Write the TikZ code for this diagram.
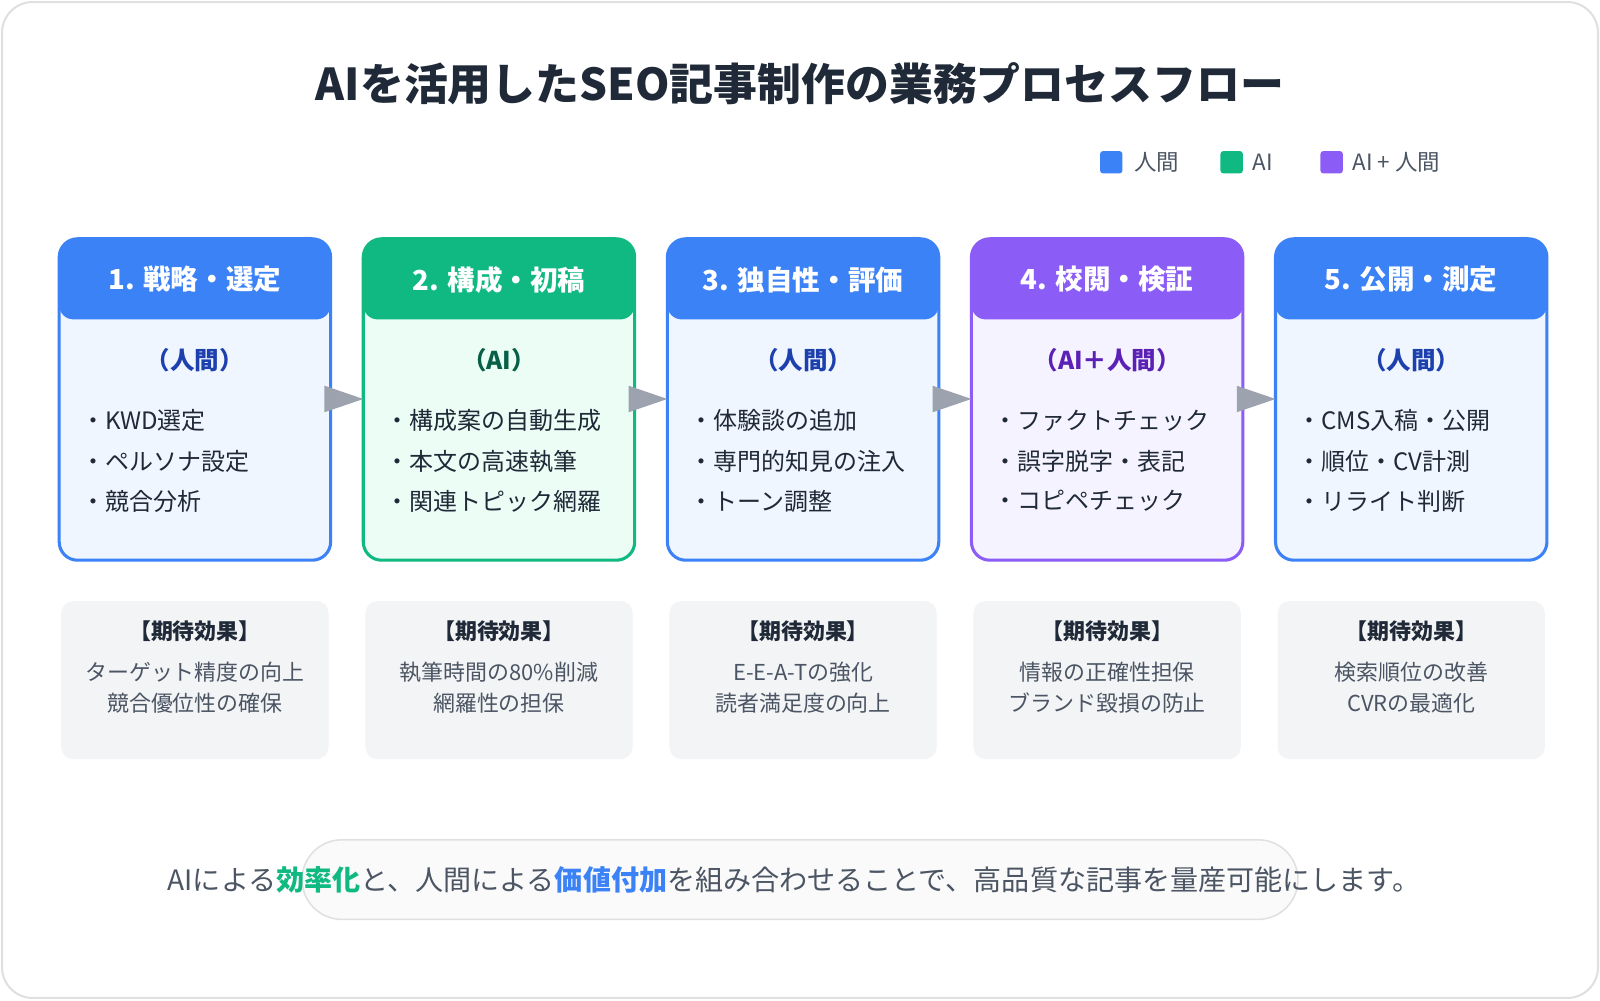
\documentclass[tikz,border=0pt]{standalone}
\usepackage{fontspec}
\setmainfont{Noto Sans CJK JP}
\definecolor{cblue}{HTML}{3B82F6}\definecolor{cgreen}{HTML}{10B981}\definecolor{cpurple}{HTML}{8B5CF6}
\definecolor{fblue}{HTML}{EFF6FF}\definecolor{fgreen}{HTML}{ECFDF5}\definecolor{fpurple}{HTML}{F5F3FF}
\definecolor{sblue}{HTML}{1E40AF}\definecolor{sgreen}{HTML}{065F46}\definecolor{spurple}{HTML}{5B21B6}
\definecolor{txt}{HTML}{1F2937}\definecolor{gtxt}{HTML}{4B5563}\definecolor{effbg}{HTML}{F3F4F6}
\definecolor{arr}{HTML}{9CA3AF}
\tikzset{
 title/.style={font=\fontsize{43}{50}\selectfont\bfseries,text=txt},
 leg/.style={font=\fontsize{22}{26}\selectfont,text=gtxt,anchor=west},
 head/.style={font=\fontsize{27}{32}\selectfont\bfseries,text=white},
 sub/.style={font=\fontsize{24}{28}\selectfont\bfseries},
 bul/.style={font=\fontsize{23.5}{28}\selectfont,text=txt,anchor=west},
 efft/.style={font=\fontsize{21.5}{26}\selectfont\bfseries,text=txt},
 effl/.style={font=\fontsize{21.5}{31}\selectfont,text=gtxt,align=center},
 flow/.style={fill=arr},
}
\newcommand{\mycard}[9]{%
 \fill[#3,rounded corners=18pt] (#1,234) rectangle ++(266,315);
 \begin{scope}
 \clip[rounded corners=18pt] (#1,234) rectangle ++(266,315);
 \fill[#2,rounded corners=14pt] (#1,234) rectangle ++(266,79);
 \fill[#2] (#1,234) rectangle ++(266,40);
 \end{scope}
 \draw[#2,line width=3pt,rounded corners=18pt] (#1,234) rectangle ++(266,315);
 \node[head] (h#9) at (#1+133,274) {#4};
 \node[sub,text=#6] (s#9) at (#1+133,353) {#5};
 \node[bul] (a#9) at (#1+18,412) {・#7};
 \coordinate (c#9) at (#1,391);
 \coordinate (d#9) at (#1+260,391);
}
\newcommand{\myarrow}[2]{\fill[flow] ([yshift=-13pt]#1) -- ([yshift=13pt]#1) -- (#2) -- cycle;}
\newcommand{\myeff}[4]{%
 \fill[effbg,rounded corners=12pt] (#1+2,589) rectangle ++(262,155);
 \node[efft] (e#4) at (#1+133,619) {【期待効果】};
 \node[effl] (l#4) at (#1+133,674) {#2\\#3};
}
\begin{document}
\begin{tikzpicture}[x=1pt,y=-1pt]
\useasboundingbox (0,0) rectangle (1568,980);
\draw[black!12,line width=2pt,fill=white,rounded corners=30pt] (2,2) rectangle (1566,978);
\node[title] (t) at (784,82) {AIを活用したSEO記事制作の業務プロセスフロー};
\fill[cblue,rounded corners=3pt] (1078,148) rectangle ++(22,22);
\node[leg] (l1) at (1108,159) {人間};
\fill[cgreen,rounded corners=3pt] (1196,148) rectangle ++(22,22);
\node[leg] (l2) at (1224,159) {AI};
\fill[cpurple,rounded corners=3pt] (1294,148) rectangle ++(22,22);
\node[leg] (l3) at (1322,159) {AI + 人間};
\mycard{58}{cblue}{fblue}{1. 戦略・選定}{（人間）}{sblue}{KWD選定}{}{1}
\node[bul] at (76,452) {・ペルソナ設定}; \node[bul] at (76,491) {・競合分析};
\mycard{356}{cgreen}{fgreen}{2. 構成・初稿}{（AI）}{sgreen}{構成案の自動生成}{}{2}
\node[bul] at (374,452) {・本文の高速執筆}; \node[bul] at (374,491) {・関連トピック網羅};
\mycard{654}{cblue}{fblue}{3. 独自性・評価}{（人間）}{sblue}{体験談の追加}{}{3}
\node[bul] at (672,452) {・専門的知見の注入}; \node[bul] at (672,491) {・トーン調整};
\mycard{952}{cpurple}{fpurple}{4. 校閲・検証}{（AI＋人間）}{spurple}{ファクトチェック}{}{4}
\node[bul] at (970,452) {・誤字脱字・表記}; \node[bul] at (970,491) {・コピペチェック};
\mycard{1250}{cblue}{fblue}{5. 公開・測定}{（人間）}{sblue}{CMS入稿・公開}{}{5}
\node[bul] at (1268,452) {・順位・CV計測}; \node[bul] at (1268,491) {・リライト判断};
\myarrow{d1}{c2}
\myarrow{d2}{c3}
\myarrow{d3}{c4}
\myarrow{d4}{c5}
\myeff{58}{ターゲット精度の向上}{競合優位性の確保}{1}
\myeff{356}{執筆時間の80\%削減}{網羅性の担保}{2}
\myeff{654}{E-E-A-Tの強化}{読者満足度の向上}{3}
\myeff{952}{情報の正確性担保}{ブランド毀損の防止}{4}
\myeff{1250}{検索順位の改善}{CVRの最適化}{5}
\draw[black!12,line width=1.5pt,fill=black!2,rounded corners=39pt] (296,823) rectangle (1272,901);
\node[font=\fontsize{27.5}{32}\selectfont,text=gtxt] (m) at (778,862) {AIによる{\bfseries\color{cgreen}効率化}と、人間による{\bfseries\color{cblue}価値付加}を組み合わせることで、高品質な記事を量産可能にします。};
\end{tikzpicture}
\end{document}
